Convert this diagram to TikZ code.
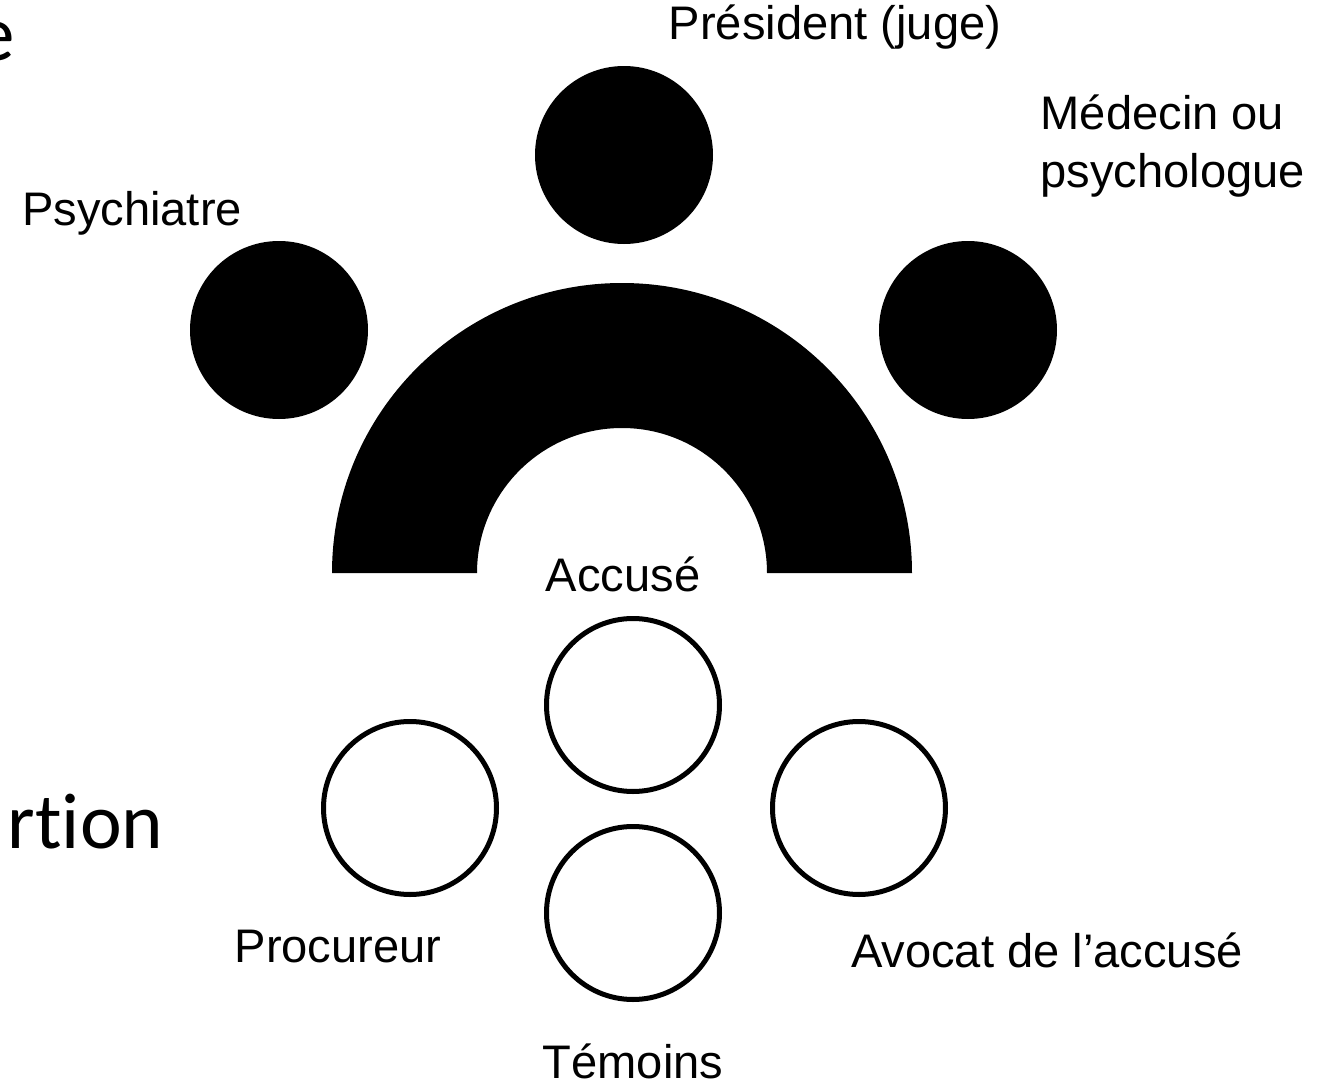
\documentclass[tikz,border=0pt]{standalone}
\usepackage{fontspec}
\setmainfont{Liberation Sans}
\newfontfamily\slidefont[Ligatures=NoCommon]{Carlito}
\begin{document}
\begin{tikzpicture}[
    seat/.style={circle, fill=black, inner sep=0pt, minimum size=1.78cm},
    chair/.style={circle, draw, line width=0.05cm, inner sep=0pt, minimum size=1.73cm},
    role/.style={inner sep=0pt, font=\fontsize{13.4}{16.5}\selectfont}
]
    \useasboundingbox (0,0) rectangle (13.24,10.84);
    \clip (0,0) rectangle (13.24,10.84);
    % cut-off slide text on the left
    \node[anchor=base east, inner sep=0pt, font=\slidefont\fontsize{22.5}{27}\selectfont] (titlecut) at (0.16,10.24) {e};
    \node[anchor=base east, inner sep=0pt, font=\slidefont\fontsize{22.5}{27}\selectfont] (textcut) at (1.64,2.36) {rtion};
    % bench
    \fill (3.32,5.11) arc[start angle=180, end angle=0, radius=2.9] -- (7.67,5.11) arc[start angle=0, end angle=180, radius=1.45] -- cycle;
    \node[seat] (president) at (6.24,9.29) {};
    \node[seat] (psychiatre) at (2.79,7.54) {};
    \node[seat] (medecin) at (9.68,7.54) {};
    % floor
    \node[chair] (accuse) at (6.33,3.79) {};
    \node[chair] (procureur) at (4.10,2.76) {};
    \node[chair] (avocat) at (8.59,2.76) {};
    \node[chair] (temoins) at (6.33,1.71) {};
    % labels
    \node[role, anchor=base] (presidentlbl) at (8.35,10.45) {Président (juge)};
    \node[role, anchor=base] (psychiatrelbl) at (1.32,8.59) {Psychiatre};
    \node[role, anchor=base west, align=left] (medecinlbl) at (10.40,8.97) {Médecin ou\\psychologue};
    \node[role, anchor=base] (accuselbl) at (6.23,4.93) {Accusé};
    \node[role, anchor=base] (procureurlbl) at (3.38,1.22) {Procureur};
    \node[role, anchor=base] (avocatlbl) at (10.47,1.17) {Avocat de l’accusé};
    \node[role, anchor=base] (temoinslbl) at (6.33,0.06) {Témoins};
\end{tikzpicture}
\end{document}
